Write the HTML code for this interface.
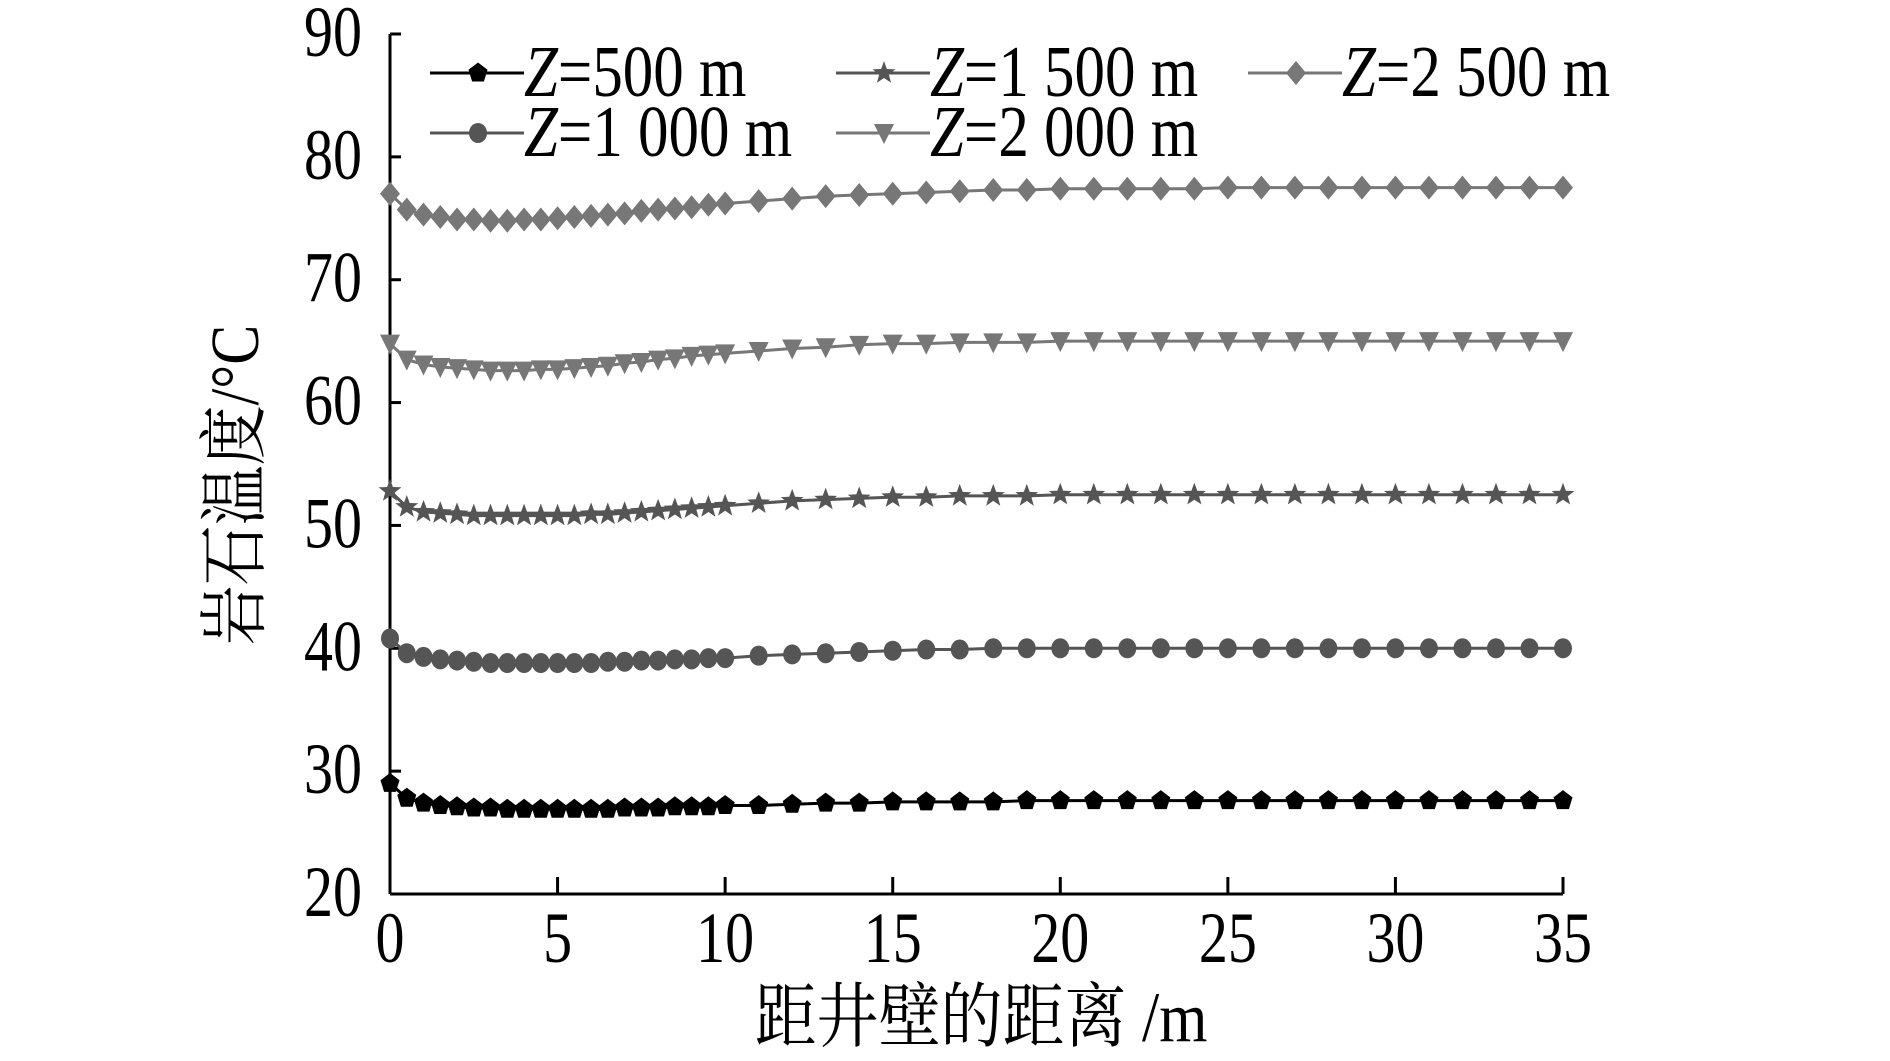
<!DOCTYPE html>
<html><head><meta charset="utf-8"><style>
html,body{margin:0;padding:0;background:#fff;width:1890px;height:1061px;overflow:hidden}
svg{display:block}
text{font-family:"Liberation Serif","Noto Serif CJK SC",serif;fill:#000}
</style></head><body>
<svg id="chart" width="1890" height="1061" viewBox="0 0 1890 1061" xmlns="http://www.w3.org/2000/svg"></svg>
<script>
const xTicks=[0,5,10,15,20,25,30,35];
const yTicks=[20,30,40,50,60,70,80,90];
const xVals=[0,0.5,1,1.5,2,2.5,3,3.5,4,4.5,5,5.5,6,6.5,7,7.5,8,8.5,9,9.5,10,11,12,13,14,15,16,17,18,19,20,21,22,23,24,25,26,27,28,29,30,31,32,33,34,35];
const z500=[29.0,27.8,27.4,27.2,27.1,27.0,27.0,26.9,26.9,26.9,26.9,26.9,26.9,26.9,27.0,27.0,27.0,27.1,27.1,27.1,27.2,27.2,27.3,27.4,27.4,27.5,27.5,27.5,27.5,27.6,27.6,27.6,27.6,27.6,27.6,27.6,27.6,27.6,27.6,27.6,27.6,27.6,27.6,27.6,27.6,27.6];
const z1000=[40.8,39.6,39.3,39.1,39.0,38.9,38.8,38.8,38.8,38.8,38.8,38.8,38.8,38.9,38.9,39.0,39.0,39.1,39.1,39.2,39.2,39.4,39.5,39.6,39.7,39.8,39.9,39.9,40.0,40.0,40.0,40.0,40.0,40.0,40.0,40.0,40.0,40.0,40.0,40.0,40.0,40.0,40.0,40.0,40.0,40.0];
const z1500=[52.8,51.5,51.1,51.0,50.9,50.8,50.8,50.8,50.8,50.8,50.8,50.8,50.9,50.9,51.0,51.1,51.2,51.3,51.4,51.5,51.6,51.8,52.0,52.1,52.2,52.3,52.3,52.4,52.4,52.4,52.5,52.5,52.5,52.5,52.5,52.5,52.5,52.5,52.5,52.5,52.5,52.5,52.5,52.5,52.5,52.5];
const z2000=[64.8,63.5,63.1,62.9,62.8,62.7,62.6,62.6,62.6,62.7,62.7,62.8,62.9,63.0,63.2,63.3,63.5,63.6,63.8,63.9,64.0,64.2,64.4,64.5,64.7,64.8,64.8,64.9,64.9,64.9,65.0,65.0,65.0,65.0,65.0,65.0,65.0,65.0,65.0,65.0,65.0,65.0,65.0,65.0,65.0,65.0];
const z2500=[77.0,75.7,75.3,75.1,74.9,74.9,74.8,74.8,74.9,74.9,75.0,75.1,75.2,75.3,75.4,75.6,75.7,75.8,75.9,76.1,76.2,76.4,76.6,76.8,76.9,77.0,77.1,77.2,77.3,77.3,77.4,77.4,77.4,77.4,77.4,77.5,77.5,77.5,77.5,77.5,77.5,77.5,77.5,77.5,77.5,77.5];
const seriesLabels=["500 m","1 000 m","1 500 m","2 000 m","2 500 m"];

const NS="http://www.w3.org/2000/svg";
const svg=document.getElementById('chart');
const X0=390,X1=1563,Y0=894,Y1=34;
const sx=v=>X0+(v-0)/(35-0)*(X1-X0);
const sy=v=>Y0-(v-20)/(90-20)*(Y0-Y1);
function mk(tag,attrs,parent){const e=document.createElementNS(NS,tag);for(const k in attrs)e.setAttribute(k,attrs[k]);(parent||svg).appendChild(e);return e;}
function stretched(x,y,anchor,size,sy_,parent){return mk('text',{x:0,y:0,'text-anchor':anchor,'font-size':size,transform:`translate(${x},${y}) scale(1,${sy_})`},parent);}

const axG=mk('g',{});


const yl=mk('line',{x1:X0,y1:Y1,x2:X0,y2:Y0,stroke:'#000','stroke-width':3},axG);


const xl=mk('line',{x1:X0,y1:Y0,x2:X1,y2:Y0,stroke:'#000','stroke-width':3},axG);


yTicks.forEach(v=>{
  const y=sy(v);
  const t=mk('line',{x1:X0,y1:y,x2:X0+11,y2:y,stroke:'#000','stroke-width':3},axG);
  
  
  const tx=stretched(362,y+22,'end',58,1.25,axG);
  
  
  tx.textContent=v;
});
xTicks.forEach(v=>{
  const x=sx(v);
  const t=mk('line',{x1:x,y1:Y0,x2:x,y2:Y0-17,stroke:'#000','stroke-width':3},axG);
  
  
  const tx=stretched(x,962,'middle',58,1.25,axG);
  
  
  tx.textContent=v;
});
const xt=stretched(981,1041,'middle',62,1.15);


xt.textContent='距井壁的距离 /m';
const yt=mk('text',{x:0,y:0,'text-anchor':'middle','font-size':60,transform:'translate(258,485) rotate(-90) scale(1,1.15)'});


yt.textContent='岩石温度/°C';

function marker(type,x,y,color,g){
  const r=10;let e;
  if(type==='pent'){const p=[];for(let i=0;i<5;i++){const a=-Math.PI/2+i*2*Math.PI/5;p.push((x+r*Math.cos(a)).toFixed(1)+','+(y+r*1.05*Math.sin(a)).toFixed(1));}e=mk('polygon',{points:p.join(' '),fill:color},g);}
  else if(type==='circle'){e=mk('ellipse',{cx:x,cy:y,rx:9,ry:10,fill:color},g);}
  else if(type==='star'){const p=[];for(let i=0;i<10;i++){const rr=i%2?5:12;const a=-Math.PI/2+i*Math.PI/5;p.push((x+rr*Math.cos(a)).toFixed(1)+','+(y+rr*Math.sin(a)).toFixed(1));}e=mk('polygon',{points:p.join(' '),fill:color},g);}
  else if(type==='tri'){e=mk('polygon',{points:`${x-10},${y-9} ${x+10},${y-9} ${x},${y+11}`,fill:color},g);}
  else {e=mk('polygon',{points:`${x},${y-12} ${x+10},${y} ${x},${y+12} ${x-10},${y}`,fill:color},g);}
  return e;
}
const series=[
 {vals:z500,color:'#000',m:'pent',name:'series-z500'},
 {vals:z1000,color:'#555',m:'circle',name:'series-z1000'},
 {vals:z1500,color:'#555',m:'star',name:'series-z1500'},
 {vals:z2000,color:'#777',m:'tri',name:'series-z2000'},
 {vals:z2500,color:'#777',m:'diamond',name:'series-z2500'}
];
series.forEach(s=>{
  const g=mk('g',{});
  
  
  const pts=xVals.map((x,i)=>sx(x).toFixed(1)+','+sy(s.vals[i]).toFixed(1)).join(' ');
  const pl=mk('polyline',{points:pts,fill:'none',stroke:s.color,'stroke-width':3},g);
  
  
  xVals.forEach((x,i)=>{
    const e=marker(s.m,sx(x),sy(s.vals[i]),s.color,g);
    
    
  });
});
const lg=mk('g',{});


const legPos=[[430,73],[430,133],[836,73],[836,133],[1248,73]];
series.forEach((s,i)=>{
  const [lx,ly]=legPos[i];
  const eg=mk('g',{},lg);
  
  
  mk('line',{x1:lx,y1:ly,x2:lx+94,y2:ly,stroke:s.color,'stroke-width':3},eg);
  marker(s.m,lx+48,ly,s.color,eg);
  const t=stretched(lx+94,ly+23,'start',61,1.2,eg);
  const it=document.createElementNS(NS,'tspan');it.setAttribute('font-style','italic');it.textContent='Z';t.appendChild(it);
  t.appendChild(document.createTextNode('='+seriesLabels[i]));
});
</script>
</body></html>
